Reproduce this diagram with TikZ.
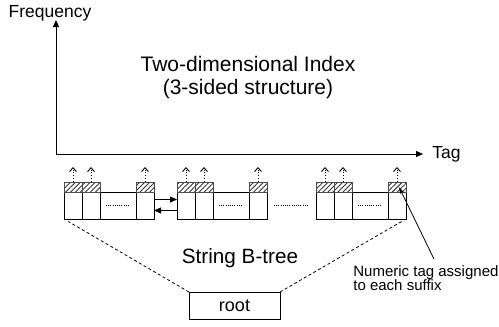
\documentclass[tikz,border=0pt]{standalone}
\usepackage{fontspec}
\setmainfont{Liberation Sans}
\usetikzlibrary{positioning,arrows.meta,patterns.meta}

\begin{document}
\begin{tikzpicture}[x=1pt, y=-1pt, line width=0.8pt,
    cell/.style={draw, minimum height=27pt, inner sep=0pt, outer sep=0pt},
    tagbox/.style={draw=black!70, pattern={Lines[angle=45, distance=3.5pt, line width=0.9pt]},
        pattern color=black!80, minimum width=18pt, minimum height=10pt, inner sep=0pt, outer sep=0pt},
    up/.style={dotted, line width=0.9pt, -{Straight Barb[length=4pt,width=7pt,line width=0.9pt]}},
    leader/.style={line width=0.7pt, dash pattern=on 0.7pt off 1.5pt},
    link/.style={-{Triangle[length=7pt,width=6pt]}},
    lbl/.style={font=\fontsize{17.5}{20}\selectfont, inner sep=0pt}]

    \useasboundingbox (0,0) rectangle (499,327);

    % axes
    \coordinate (o) at (56,154);
    \coordinate (ytop) at (56,20);
    \coordinate (xend) at (423,154);
    \draw[{Triangle[length=7pt,width=6pt]}-{Triangle[length=7pt,width=6pt]}] (ytop) -- (o) -- (xend);
    \node[lbl, anchor=base] (freq) at (50,17) {Frequency};
    \node[lbl, anchor=base west] (tag) at (432,158) {Tag};

    \node[font=\fontsize{21}{23}\selectfont, align=center, inner sep=0pt, anchor=north]
        (title) at (248,56) {Two-dimensional Index\\(3-sided structure)};

    % leaf level of the string B-tree
    \foreach \b/\x in {a/64, b/177, c/316}{
        \node[cell, minimum width=18pt, anchor=north west] (\b1) at (\x,192) {};
        \node[cell, minimum width=18pt, right=0pt of \b1] (\b2) {};
        \node[cell, minimum width=36pt, right=0pt of \b2] (\b3) {};
        \node[cell, minimum width=18pt, right=0pt of \b3] (\b4) {};
        \draw[leader] ([xshift=6pt]\b3.west) -- ([xshift=-6pt]\b3.east);
        \foreach \c in {1,2,4}{
            \node[tagbox, above=0pt of \b\c] (\b\c t) {};
            \coordinate[above=15pt of \b\c t] (\b\c u);
            \draw[up] (\b\c t) -- (\b\c u);
        }
    }
    \draw[leader] ([xshift=7pt]b4.east) -- ([xshift=-7pt]c1.west);

    \draw[link] ([yshift=6pt]a4.east) -- ([yshift=6pt]b1.west);
    \draw[link] ([yshift=-5pt]b1.west) -- ([yshift=-5pt]a4.east);

    % root
    \node[cell, minimum width=91pt, font=\fontsize{18}{20}\selectfont] (root) at (234.5,305.5) {root};
    \draw[dash pattern=on 3pt off 2.5pt, shorten >=5pt] (root.north west) -- (a1.south west);
    \draw[dash pattern=on 3pt off 2.5pt, shorten >=5pt] (root.north east) -- (c4.south east);

    \node[font=\fontsize{20.7}{24}\selectfont, inner sep=0pt, anchor=base] (btree) at (240,263) {String B-tree};

    \node[font=\fontsize{15}{14.5}\selectfont, align=left, inner sep=0pt, anchor=north west]
        (note) at (353,265) {Numeric tag assigned\\to each suffix};
    \draw[-{Stealth[length=7pt,width=4pt]}] ([xshift=8pt,yshift=6pt]note.north) -- ([xshift=2pt]c4t.center);

\end{tikzpicture}
\end{document}
